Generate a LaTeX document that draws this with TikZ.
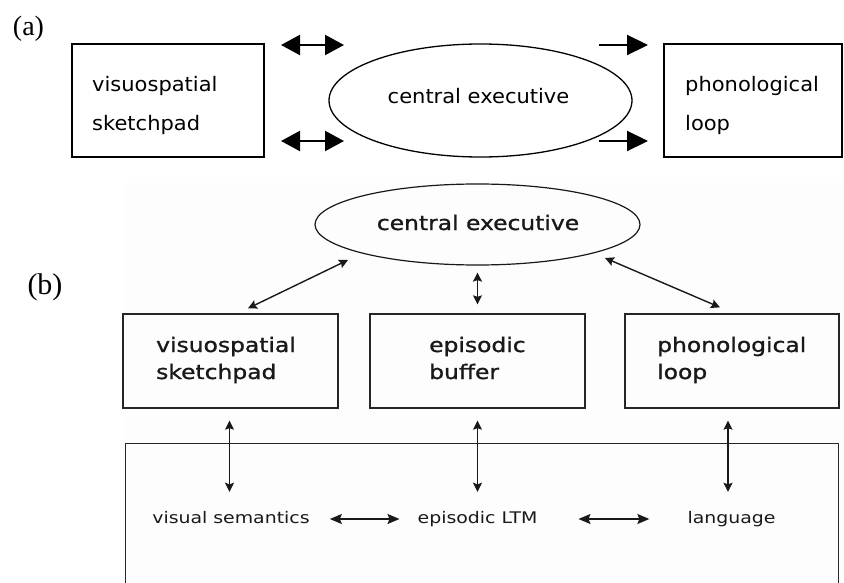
\documentclass[tikz,border=0pt]{standalone}
\usepackage{fontspec}
\usetikzlibrary{arrows.meta,shapes.geometric,calc}
\setmainfont{Liberation Serif}
\newfontfamily\sansA{DejaVu Sans}[FakeStretch=1.05]
\newfontfamily\sansB{DejaVu Sans}[FakeStretch=1.18]
\newfontfamily\sansBB{DejaVu Sans}[FakeStretch=1.17,FakeBold=1.2]

\begin{document}
\begin{tikzpicture}[x=1pt,y=-1pt,
  panel/.style={font=\fontsize{28}{30}\selectfont, inner sep=0pt},
  boxA/.style={draw, line width=1.6pt, inner sep=0pt, minimum height=113pt},
  txtA/.style={font=\sansA\fontsize{20}{24}\selectfont, inner sep=0pt, anchor=base west},
  ovalA/.style={ellipse, draw, line width=1.3pt, inner sep=0pt},
  tipA/.tip={Triangle[length=19pt,width=20pt]},
  dblA/.style={line width=2.2pt, tipA-tipA},
  oneA/.style={line width=2.2pt, -{Triangle[length=21pt,width=20pt]}},
  boxB/.style={draw=black!85, line width=1.3pt, inner sep=0pt, minimum height=94pt},
  txtB/.style={font=\sansBB\fontsize{20}{27}\selectfont, text=black!90, inner sep=0pt, anchor=base west},
  ovalB/.style={ellipse, draw=black!90, line width=1.2pt, inner sep=0pt},
  lblB/.style={font=\sansB\fontsize{16}{19}\selectfont, text=black!90, inner sep=0pt,
               text height=12pt, text depth=4pt, anchor=base},
  tipB/.tip={Stealth[length=9pt,width=9pt,inset=1.5pt]},
  tipH/.tip={Stealth[length=12pt,width=10pt,inset=2pt]},
  arrB/.style={line width=1.4pt, black!90, tipB-tipB},
  arrH/.style={line width=1.4pt, black!90, tipH-tipH}
]
\useasboundingbox (0,0) rectangle (844,583);

% ---------- panel (a) ----------
\node[panel] (labA) at (28.5,29) {(a)};

\node[boxA, minimum width=192pt] (vsA) at (168,100.5) {};
\node[txtA] (vsA1) at (92,91.5) {visuospatial};
\node[txtA] (vsA2) at (92,131) {sketchpad};

\node[ovalA, minimum width=303pt, minimum height=113pt] (ceA) at (480.5,100.5) {};
\node[txtA, anchor=base] (ceA1) at (478.5,103.5) {central executive};

\node[boxA, minimum width=178pt] (plA) at (753,100.5) {};
\node[txtA] (plA1) at (685,91.5) {phonological};
\node[txtA] (plA2) at (685,131) {loop};

\coordinate (a1l) at (281,45);  \coordinate (a1r) at (344,45);
\coordinate (a2l) at (281,141); \coordinate (a2r) at (344,141);
\coordinate (a3l) at (599,45);  \coordinate (a3r) at (648,45);
\coordinate (a4l) at (599,141); \coordinate (a4r) at (648,141);
\draw[dblA] (a1l) -- (a1r);
\draw[dblA] (a2l) -- (a2r);
\draw[oneA] (a3l) -- (a3r);
\draw[oneA] (a4l) -- (a4r);

% ---------- panel (b) ----------
\fill[black!0.7] (123,183) rectangle (844,583);
\node[panel, font=\fontsize{30}{32}\selectfont] (labB) at (45,287.5) {(b)};

\node[ovalB, minimum width=325pt, minimum height=81pt] (ceB) at (477.5,224.5) {};
\node[txtB, anchor=base] (ceB1) at (478,230) {central executive};

\node[boxB, minimum width=215pt] (vsB) at (230.5,361) {};
\node[txtB] (vsB1) at (156,352) {visuospatial};
\node[txtB] (vsB2) at (156,379) {sketchpad};

\node[boxB, minimum width=215pt] (ebB) at (477.5,361) {};
\node[txtB] (ebB1) at (429,352) {episodic};
\node[txtB] (ebB2) at (429,379) {buffer};

\node[boxB, minimum width=214pt] (plB) at (732,361) {};
\node[txtB] (plB1) at (657,352) {phonological};
\node[txtB] (plB2) at (657,379) {loop};

% long-term memory region (open at the bottom)
\node[draw=black!85, line width=1.3pt, inner sep=0pt, anchor=north west,
      minimum width=713pt, minimum height=170pt] (ltm) at (125,443) {};

\node[lblB] (vsem) at (231,523) {visual semantics};
\node[lblB] (eltm) at (477.5,523) {episodic LTM};
\node[lblB] (lang) at (731.5,523) {language};

% executive links
\draw[arrB] ($(ceB.center)+(-129.5,35.5)$) -- ($(vsB.north)+(17.5,-5)$);
\draw[arrB, shorten <=7pt, shorten >=9pt] (ceB.south) -- (ebB.north);
\draw[arrB] ($(ceB.center)+(127.5,33.5)$) -- ($(plB.north)+(-12,-6)$);

% links down to long-term memory
\draw[arrB, shorten <=12pt, shorten >=19pt] ([xshift=-1pt]vsB.south) -- ([xshift=-1pt]vsB.south |- vsem.north);
\draw[arrB, shorten <=12pt, shorten >=19pt] (ebB.south) -- (ebB.south |- eltm.north);
\draw[arrB, shorten <=12pt, shorten >=19pt] ([xshift=-4pt]plB.south) -- ([xshift=-4pt]plB.south |- lang.north);

% links inside long-term memory
\draw[arrH, shorten <=20pt, shorten >=18pt] (vsem.east) -- (eltm.west);
\draw[arrH, shorten <=41pt, shorten >=38pt] (eltm.east) -- (lang.west);
\end{tikzpicture}
\end{document}
